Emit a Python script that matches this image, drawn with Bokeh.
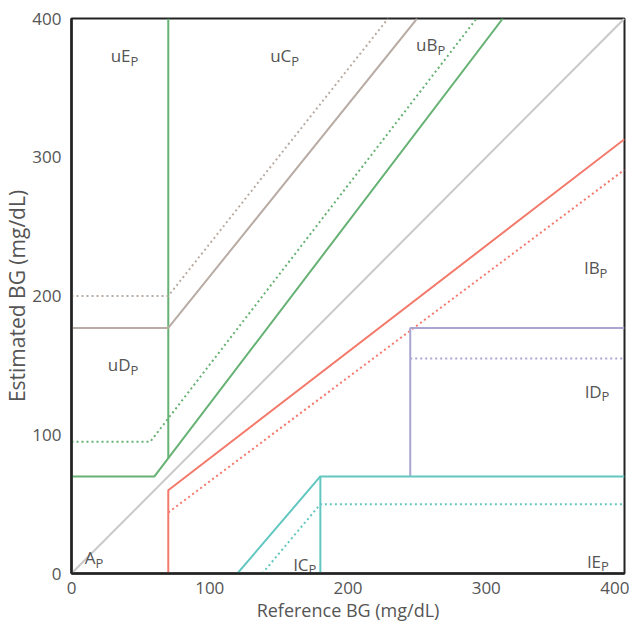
from bokeh.plotting import figure
from bokeh.models import Range1d, FixedTicker, ColumnDataSource
from bokeh.core.properties import value
from bokeh.embed import file_html
from bokeh.resources import INLINE

# ---- data (mg/dL) ----
ticks = [0, 100, 200, 300, 400]

identity_x = [0, 400]
identity_y = [0, 400]

# upper zone boundaries
ub_solid_x = [0, 60, 312]
ub_solid_y = [70, 70, 400]
ub_dot_x = [0, 57, 293]
ub_dot_y = [95, 95, 400]
ub_vert_x = [70, 70]
ub_vert_y = [83, 400]

uc_solid_x = [0, 70, 250]
uc_solid_y = [177, 177, 400]
uc_dot_x = [0, 70, 229]
uc_dot_y = [200, 200, 400]

# lower zone boundaries
lb_solid_x = [70, 70, 400]
lb_solid_y = [0, 60, 313]
lb_dot_x = [70, 400]
lb_dot_y = [44, 291]

ld_solid_x = [245, 245, 400]
ld_solid_y = [70, 177, 177]
ld_dot_x = [245, 400]
ld_dot_y = [155, 155]

lc_solid_x = [120, 180, 400]
lc_solid_y = [0, 70, 70]
lc_vert_x = [180, 180]
lc_vert_y = [0, 70]
lc_dot_x = [138, 180, 400]
lc_dot_y = [0, 50, 50]

# zone labels (main text, subscript, anchor x, anchor y)
zone_main = ["uE", "uC", "uB", "uD", "lB", "lD", "lE", "lC", "A"]
zone_sub = ["P", "P", "P", "P", "P", "P", "P", "P", "P"]
zone_x = [42.7, 159, 264.7, 42.7, 382, 383.4, 383, 171.4, 17.4]
zone_y = [373, 373, 381, 150.6, 220.5, 131.4, 9.0, 6.5, 11.3]

# ---- figure ----
p = figure(frame_width=553, frame_height=555, output_backend="svg", toolbar_location=None,
           x_range=Range1d(0, 400), y_range=Range1d(0, 400),
           min_border_left=65, min_border_right=5, min_border_top=18, min_border_bottom=45)
p.grid.visible = False
p.background_fill_color = "white"
p.border_fill_color = "white"
p.outline_line_color = "#222222"
p.outline_line_width = 2

FONT = "Open Sans"
TXT = "#555555"

for ax in (p.xaxis[0], p.yaxis[0]):
    ax.ticker = FixedTicker(ticks=ticks)
    ax.axis_line_color = "#222222"
    ax.axis_line_width = 2.5
    ax.major_tick_line_color = None
    ax.minor_tick_line_color = None
    ax.major_label_text_font = FONT
    ax.major_label_text_font_size = "17px"
    ax.major_label_text_color = TXT
    ax.axis_label_text_font = FONT
    ax.axis_label_text_color = TXT
    ax.axis_label_text_font_style = "normal"

p.xaxis.axis_label = "Reference BG (mg/dL)"
p.yaxis.axis_label = "Estimated BG (mg/dL)"
p.xaxis.axis_label_text_font_size = "18px"
p.yaxis.axis_label_text_font_size = "21px"
p.xaxis.major_label_standoff = 2
p.yaxis.major_label_standoff = 4
p.xaxis.axis_label_standoff = 1
p.yaxis.axis_label_standoff = -2

GRAY = "#c9c9c9"
GREEN = "#66b274"
TAN = "#b8aca4"
RED = "#f37a6b"
PURPLE = "#aaa6d2"
TEAL = "#62c7c0"
W = 2
DOT = "2 3"

p.line(identity_x, identity_y, color=GRAY, line_width=W)

p.line(ub_solid_x, ub_solid_y, color=GREEN, line_width=W)
p.line(ub_dot_x, ub_dot_y, color=GREEN, line_width=W, line_dash=DOT)
p.line(ub_vert_x, ub_vert_y, color=GREEN, line_width=W)

p.line(uc_solid_x, uc_solid_y, color=TAN, line_width=W)
p.line(uc_dot_x, uc_dot_y, color=TAN, line_width=W, line_dash=DOT)

p.line(lb_solid_x, lb_solid_y, color=RED, line_width=W)
p.line(lb_dot_x, lb_dot_y, color=RED, line_width=W, line_dash=DOT)

p.line(ld_solid_x, ld_solid_y, color=PURPLE, line_width=W)
p.line(ld_dot_x, ld_dot_y, color=PURPLE, line_width=W, line_dash=DOT)

p.line(lc_solid_x, lc_solid_y, color=TEAL, line_width=W)
p.line(lc_vert_x, lc_vert_y, color=TEAL, line_width=W)
p.line(lc_dot_x, lc_dot_y, color=TEAL, line_width=W, line_dash=DOT)

src = ColumnDataSource(dict(x=zone_x, y=zone_y, main=zone_main, sub=zone_sub))
p.text(x="x", y="y", text="main", source=src, text_align="right", text_baseline="alphabetic",
       text_font=value(FONT), text_font_size="17px", text_color=TXT)
p.text(x="x", y="y", text="sub", source=src, text_align="left", text_baseline="alphabetic",
       y_offset=5, text_font=value(FONT), text_font_size="13px", text_color=TXT)

open("out.html", "w").write(file_html(p, INLINE))
